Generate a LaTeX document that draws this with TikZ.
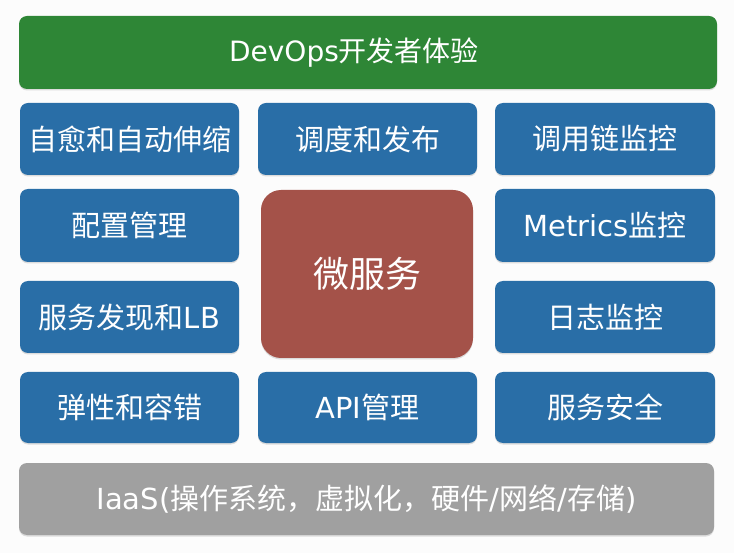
\documentclass[tikz,border=0pt]{standalone}
\usepackage{fontspec}
\setmainfont{DejaVu Sans}
\newfontfamily\cjk{Noto Sans CJK SC}
\usetikzlibrary{shadows}
\definecolor{bggreen}{RGB}{46,134,54}
\definecolor{bgblue}{RGB}{41,110,167}
\definecolor{bgred}{RGB}{164,82,73}
\definecolor{bggray}{RGB}{160,160,160}
\definecolor{pagebg}{RGB}{252,252,252}
\tikzset{
  tile/.style={rounded corners=8pt, inner sep=0pt, outer sep=0pt, text=white,
    font=\fontsize{29}{32}\selectfont,
    drop shadow={opacity=0.25, shadow xshift=0pt, shadow yshift=-1.5pt}},
  bluetile/.style={tile, fill=bgblue, minimum width=219pt, minimum height=72pt},
  label/.style={text=white, inner sep=0pt, font=\fontsize{28}{31}\selectfont},
}
\begin{document}
\begin{tikzpicture}[x=1pt,y=-1pt]
\useasboundingbox (0,0) rectangle (734,553);
\fill[pagebg] (0,0) rectangle (734,553);
% top bar
\node[tile, fill=bggreen, minimum width=698pt, minimum height=73pt] (devops) at (368,52.5) {};
\node[label] (devopstext) at (354,52.5) {DevOps{\cjk 开发者体验}};
% left column
\node[bluetile] (l1) at (129.5,139) {\cjk 自愈和自动伸缩};
\node[bluetile, minimum height=73pt] (l2) at (129.5,225.5) {\cjk 配置管理};
\node[bluetile] (l3) at (129.5,317) {{\cjk 服务发现和}LB};
\node[bluetile, minimum height=71pt] (l4) at (129.5,407.5) {\cjk 弹性和容错};
% middle column
\node[bluetile] (m1) at (367.5,139) {\cjk 调度和发布};
\node[tile, fill=bgred, rounded corners=20pt, minimum width=212pt, minimum height=168pt,
      font=\fontsize{36}{40}\selectfont] (ms) at (367,274) {\cjk 微服务};
\node[bluetile, minimum height=71pt] (m4) at (367.5,407.5) {API{\cjk 管理}};
% right column
\node[bluetile, minimum width=220pt] (r1) at (605,139) {\cjk 调用链监控};
\node[bluetile, minimum width=220pt, minimum height=73pt] (r2) at (605,225.5) {Metrics{\cjk 监控}};
\node[bluetile, minimum width=220pt] (r3) at (605,317) {\cjk 日志监控};
\node[bluetile, minimum width=220pt, minimum height=71pt] (r4) at (605,407.5) {\cjk 服务安全};
% bottom bar
\node[tile, fill=bggray, minimum width=695pt, minimum height=72pt] (iaas) at (366.5,499) {IaaS({\cjk 操作系统，虚拟化，硬件}/{\cjk 网络}/{\cjk 存储})};
\end{tikzpicture}
\end{document}
